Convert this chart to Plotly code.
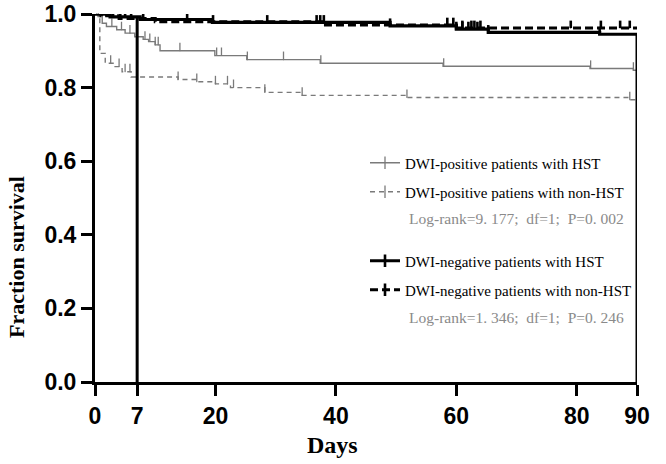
import numpy as np
import plotly.graph_objects as go

# ---------------- data ----------------
END_DAY = 90
REF_DAY = 7

# DWI-positive patients with HST (gray solid)
pos_hst_t = [0.5, 1.2, 1.9, 3.6, 5.0, 6.6, 8.0, 8.9, 10.0, 10.8, 19.9, 25.2, 37.4, 57.8, 82.2, 89.4]
pos_hst_s = [0.993, 0.975, 0.966, 0.957, 0.948, 0.938, 0.931, 0.925, 0.916, 0.900, 0.887, 0.876, 0.866, 0.858, 0.852, 0.847]
pos_hst_c = [0.3, 0.8, 2.8, 4.4, 5.8, 8.3, 9.1, 10.0, 10.5, 14.1, 20.2, 21.0, 25.3, 31.3, 37.5, 57.9, 82.3, 89.4]

# DWI-positive patiens with non-HST (gray dashed)
pos_non_t = [0.8, 1.7, 3.0, 4.5, 6.0, 13.8, 16.9, 20.0, 22.5, 28.2, 34.4, 51.8, 88.8]
pos_non_s = [0.893, 0.866, 0.857, 0.843, 0.829, 0.822, 0.816, 0.810, 0.800, 0.787, 0.779, 0.773, 0.767]
pos_non_c = [2.6, 4.0, 5.0, 5.8, 13.8, 16.9, 20.0, 22.0, 23.0, 28.2, 34.4, 51.8, 88.8]

# DWI-negative patients with HST (black solid)
neg_hst_t = [2.5, 7.5, 19.5, 49.0, 60.0, 65.3, 83.8]
neg_hst_s = [0.992, 0.985, 0.977, 0.968, 0.959, 0.950, 0.945]
neg_hst_c = [0.5, 3.0, 4.2, 5.0, 8.0, 15.3, 19.6, 28.6, 36.8, 37.4, 38.0, 49.0, 60.0, 61.0, 62.0, 63.5, 65.3, 83.8]

# DWI-negative patients with non-HST (black dashed)
neg_non_t = [1.0, 4.0, 10.0, 38.0, 60.0]
neg_non_s = [0.995, 0.988, 0.979, 0.970, 0.962]
neg_non_c = [0.3, 0.6, 1.2, 1.8, 2.2, 6.0, 58.5, 59.5, 61.0, 62.5, 63.0, 64.0, 79.0, 84.0, 87.2, 88.8]

x_ticks = [0, 7, 20, 40, 60, 80, 90]
y_ticks = [0.0, 0.2, 0.4, 0.6, 0.8, 1.0]

names = [
    "DWI-positive patients with HST",
    "DWI-positive patiens with non-HST",
    "DWI-negative patients with HST",
    "DWI-negative patients with non-HST",
]
logrank_texts = [
    "Log-rank=9. 177;  df=1;  P=0. 002",
    "Log-rank=1. 346;  df=1;  P=0. 246",
]

# ---------------- helpers ----------------
def surv_at(times, survs, x):
    idx = np.searchsorted(np.asarray(times), np.asarray(x), side="right") - 1
    s = np.asarray([1.0] + list(survs))
    return s[idx + 1]

GRAY = "#7a7a7a"
BLACK = "#000000"

styles = [
    dict(color=GRAY, width=1.4, dash="solid", tick=0.022, tw=1.3),
    dict(color=GRAY, width=1.4, dash="5px,4px", tick=0.022, tw=1.3),
    dict(color=BLACK, width=3.2, dash="solid", tick=0.02, tw=2.6),
    dict(color=BLACK, width=3.0, dash="8px,4px", tick=0.02, tw=2.6),
]
series = [
    (pos_hst_t, pos_hst_s, pos_hst_c),
    (pos_non_t, pos_non_s, pos_non_c),
    (neg_hst_t, neg_hst_s, neg_hst_c),
    (neg_non_t, neg_non_s, neg_non_c),
]
legend_ids = ["legend", "legend2", "legend3", "legend4"]

fig = go.Figure()

for (t, s, c), st, nm, lg in zip(series, styles, names, legend_ids):
    xs = [0] + list(t) + [END_DAY]
    ys = [1.0] + list(s) + [s[-1]]
    fig.add_trace(go.Scatter(
        x=xs, y=ys, mode="lines", line_shape="hv",
        line=dict(color=st["color"], width=st["width"], dash=st["dash"]),
        showlegend=False, cliponaxis=False, hoverinfo="skip"))
    fig.add_trace(go.Scatter(
        x=c, y=surv_at(t, s, c), mode="markers",
        marker=dict(size=1, color=st["color"]),
        error_y=dict(type="constant", symmetric=False, value=st["tick"], valueminus=0,
                     width=0, thickness=st["tw"], color=st["color"]),
        showlegend=False, cliponaxis=False, hoverinfo="skip"))
    # legend-only entry
    fig.add_trace(go.Scatter(
        x=[None], y=[None], mode="lines+markers", name=nm, legend=lg,
        line=dict(color=st["color"], width=st["width"], dash=st["dash"]),
        marker=dict(symbol="line-ns-open", size=9,
                    line=dict(color=st["color"], width=st["tw"]))))

# reference vertical lines (day 7 and day 90) for the black solid curve
ref_top = float(surv_at(neg_hst_t, neg_hst_s, [REF_DAY])[0])
end_top = float(neg_hst_s[-1])
fig.add_shape(type="line", xref="x", yref="y", x0=REF_DAY, x1=REF_DAY, y0=0, y1=ref_top,
              line=dict(color=BLACK, width=3))
fig.add_shape(type="line", xref="x", yref="y", x0=END_DAY, x1=END_DAY, y0=0, y1=end_top,
              line=dict(color=BLACK, width=3))

tickfont = dict(family="Liberation Sans", size=23, color="black", weight="bold")

fig.update_xaxes(range=[0, END_DAY], tickvals=x_ticks, ticktext=[str(v) for v in x_ticks],
                 showgrid=False, zeroline=False, showline=True, linecolor="black", linewidth=3,
                 ticks="outside", ticklen=11, tickwidth=3, tickcolor="black",
                 tickfont=tickfont, automargin=False)
fig.update_yaxes(range=[0, 1.0], tickvals=y_ticks, ticktext=[f"{v:.1f}" for v in y_ticks],
                 showgrid=False, zeroline=False, showline=True, linecolor="black", linewidth=3,
                 ticks="outside", ticklen=11, tickwidth=3, tickcolor="black",
                 tickfont=tickfont, automargin=False)

W, H = 666, 464
L, R, T, B = 95, 29, 14, 82
pw, ph = W - L - R, H - T - B

def px2paper(px, py):
    return (px - L) / pw, (H - B - py) / ph

legfont = dict(family="Liberation Serif", size=15, color="black")
leg_rows = [163, 192, 261, 290]
legends = {}
for lg, row in zip(legend_ids, leg_rows):
    lx, ly = px2paper(365, row)
    legends[lg] = dict(x=lx, y=ly, xanchor="left", yanchor="middle",
                       bgcolor="rgba(0,0,0,0)", borderwidth=0, font=legfont,
                       itemwidth=30)

annotations = []
for txt, row in zip(logrank_texts, [218, 317]):
    ax, ay = px2paper(407, row)
    annotations.append(dict(text=txt, x=ax, y=ay, xref="paper", yref="paper",
                            xanchor="left", yanchor="middle", showarrow=False,
                            font=dict(family="Liberation Serif", size=15.5, color="#8a8a8a")))
tx, ty = px2paper(16, 257)
annotations.append(dict(text="<b>Fraction survival</b>", x=tx, y=ty, xref="paper", yref="paper",
                        xanchor="center", yanchor="middle", showarrow=False, textangle=-90,
                        font=dict(family="Liberation Serif", size=22, color="black")))
dx, dy = px2paper(332, 445)
annotations.append(dict(text="<b>Days</b>", x=dx, y=dy, xref="paper", yref="paper",
                        xanchor="center", yanchor="middle", showarrow=False,
                        font=dict(family="Liberation Serif", size=24, color="black")))

fig.update_layout(
    width=W, height=H, margin=dict(l=L, r=R, t=T, b=B, autoexpand=False),
    plot_bgcolor="white", paper_bgcolor="white",
    annotations=annotations, **legends)

fig.write_html("out.html", config={"displayModeBar": False},
               post_script="document.body.style.margin='0';")
